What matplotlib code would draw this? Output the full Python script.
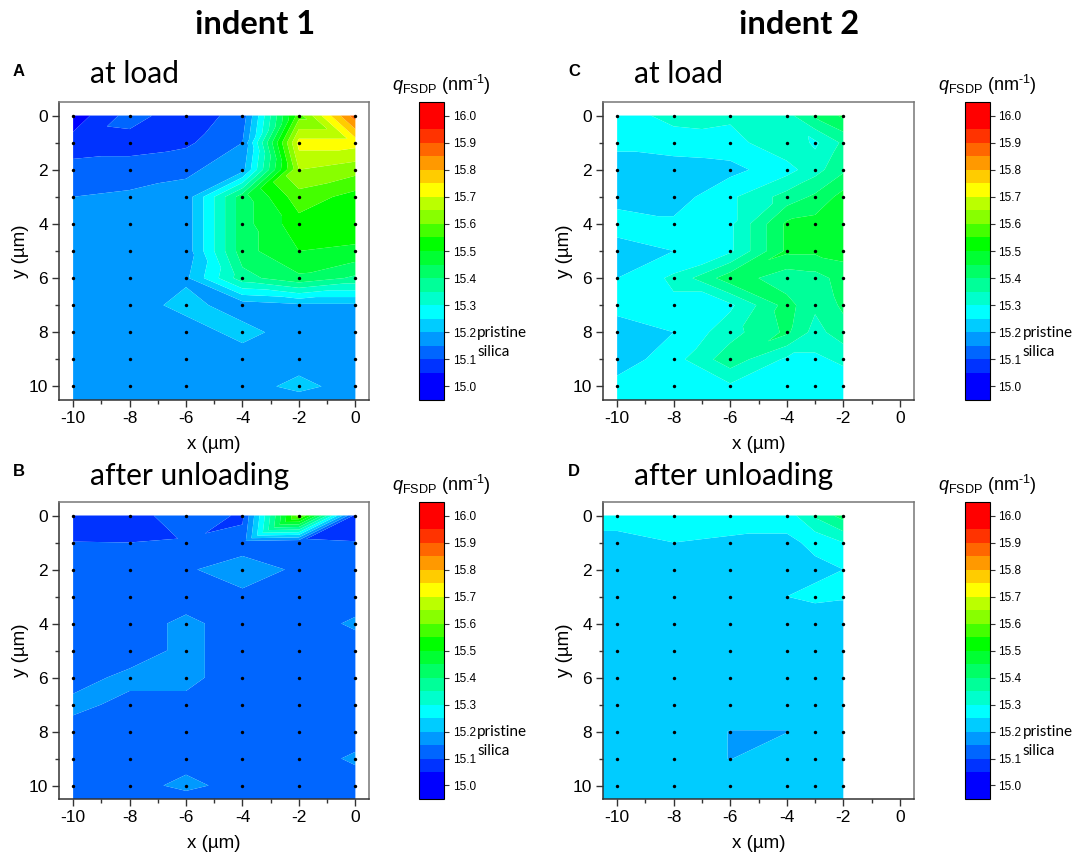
import numpy as np
import matplotlib
matplotlib.use('Agg')
import matplotlib.pyplot as plt
import matplotlib.tri as mtri
from matplotlib.colors import ListedColormap, BoundaryNorm
from matplotlib.cm import ScalarMappable
from matplotlib.ticker import MultipleLocator

plt.rcParams['font.family'] = ['Liberation Sans', 'DejaVu Sans']
plt.rcParams['mathtext.fontset'] = 'custom'
plt.rcParams['mathtext.rm'] = 'Liberation Sans'
plt.rcParams['mathtext.it'] = 'Liberation Sans:italic'
plt.rcParams['axes.unicode_minus'] = False

W, H = 1084, 860

# colour scale of the maps
levels = [14.95, 15.05, 15.10, 15.15, 15.20, 15.25, 15.30, 15.35, 15.40, 15.45, 15.50,
          15.55, 15.60, 15.65, 15.70, 15.75, 15.80, 15.85, 15.90, 15.95, 16.05]
colors = ['#0000ff', '#0033ff', '#0066ff', '#0099ff', '#00ccff', '#00ffff', '#00ffcc',
          '#00ff99', '#00ff66', '#00ff33', '#00ff00', '#44ff00', '#88ff00', '#bbff00',
          '#ffff00', '#ffcc00', '#ff9900', '#ff6600', '#ff3300', '#ff0000']
cbar_ticks = [15.0, 15.1, 15.2, 15.3, 15.4, 15.5, 15.6, 15.7, 15.8, 15.9, 16.0]

y_pos = [0, 1, 2, 3, 4, 5, 6, 7, 8, 9, 10]
x_indent1 = [-10, -8, -6, -4, -2, 0]
x_indent2 = [-10, -8, -6, -4, -3, -2]

q_a = [[15.02, 15.12, 15.07, 15.12, 15.58, 15.88],
       [15.07, 15.08, 15.09, 15.15, 15.72, 15.72],
       [15.12, 15.12, 15.14, 15.18, 15.65, 15.62],
       [15.15, 15.16, 15.17, 15.43, 15.58, 15.53],
       [15.17, 15.17, 15.17, 15.43, 15.53, 15.53],
       [15.17, 15.17, 15.17, 15.43, 15.50, 15.49],
       [15.17, 15.17, 15.19, 15.38, 15.44, 15.39],
       [15.17, 15.17, 15.22, 15.17, 15.19, 15.19],
       [15.17, 15.17, 15.17, 15.22, 15.17, 15.17],
       [15.17, 15.17, 15.17, 15.17, 15.17, 15.17],
       [15.17, 15.17, 15.17, 15.17, 15.22, 15.17]]
q_a_edge = [15.17, 15.17, 15.17, 15.17, 15.17, 15.17]

q_b = [[15.07, 15.07, 15.14, 15.09, 15.62, 15.08],
       [15.101, 15.10, 15.105, 15.12, 15.103, 15.101],
       [15.12, 15.12, 15.1425, 15.18, 15.14, 15.12],
       [15.12, 15.12, 15.11, 15.137, 15.12, 15.12],
       [15.12, 15.11, 15.17, 15.11, 15.12, 15.16],
       [15.12, 15.11, 15.17, 15.11, 15.12, 15.12],
       [15.12, 15.17, 15.17, 15.11, 15.12, 15.12],
       [15.17, 15.13, 15.13, 15.12, 15.12, 15.12],
       [15.12, 15.12, 15.12, 15.12, 15.12, 15.12],
       [15.12, 15.12, 15.12, 15.12, 15.12, 15.16],
       [15.12, 15.12, 15.17, 15.12, 15.12, 15.12]]
q_b_edge = [15.12, 15.12, 15.12, 15.12, 15.12, 15.12]

q_c = [[15.27, 15.32, 15.31, 15.33, 15.41, 15.46],
       [15.26, 15.27, 15.28, 15.34, 15.29, 15.36],
       [15.23, 15.23, 15.235, 15.28, 15.33, 15.39],
       [15.225, 15.225, 15.29, 15.37, 15.41, 15.47],
       [15.28, 15.26, 15.29, 15.46, 15.47, 15.49],
       [15.22, 15.25, 15.29, 15.46, 15.46, 15.47],
       [15.25, 15.31, 15.43, 15.37, 15.38, 15.42],
       [15.27, 15.29, 15.29, 15.42, 15.36, 15.41],
       [15.22, 15.25, 15.33, 15.41, 15.33, 15.38],
       [15.22, 15.28, 15.38, 15.29, 15.29, 15.31],
       [15.27, 15.28, 15.29, 15.28, 15.27, 15.27]]
q_c_edge = [15.27, 15.27, 15.27, 15.27, 15.27, 15.27]

q_d = [[15.27, 15.28, 15.28, 15.27, 15.36, 15.42],
       [15.235, 15.25, 15.24, 15.24, 15.26, 15.30],
       [15.22, 15.22, 15.22, 15.22, 15.24, 15.25],
       [15.22, 15.22, 15.22, 15.25, 15.26, 15.255],
       [15.22, 15.22, 15.22, 15.22, 15.22, 15.22],
       [15.22, 15.22, 15.22, 15.22, 15.22, 15.22],
       [15.22, 15.22, 15.22, 15.22, 15.22, 15.22],
       [15.22, 15.22, 15.22, 15.22, 15.22, 15.22],
       [15.22, 15.22, 15.199, 15.199, 15.22, 15.22],
       [15.22, 15.22, 15.199, 15.22, 15.22, 15.22],
       [15.22, 15.22, 15.22, 15.22, 15.22, 15.22]]
q_d_edge = [15.22, 15.22, 15.22, 15.22, 15.22, 15.22]

cmap = ListedColormap(colors)
norm = BoundaryNorm(levels, len(colors))


def box(left, top, right, bottom):
    return [left / W, 1 - bottom / H, (right - left) / W, (bottom - top) / H]


def put(x, y, s, **kw):
    return fig.text(x / W, 1 - y / H, s, **kw)


def split_cells(z, flips=()):
    # each grid cell is cut along the diagonal whose two corners are closest in value
    ny, nx = z.shape
    tris = []
    for j in range(ny - 1):
        for i in range(nx - 1):
            a, b = j * nx + i, j * nx + i + 1
            c, d = (j + 1) * nx + i, (j + 1) * nx + i + 1
            first = abs(z[j, i] - z[j + 1, i + 1]) <= abs(z[j, i + 1] - z[j + 1, i])
            if (j, i) in flips:
                first = not first
            if first:
                tris += [[a, b, d], [a, d, c]]
            else:
                tris += [[a, b, c], [b, d, c]]
    return tris


def draw_map(rect, cbar_rect, xs, q, q_edge, letter, letter_x, sub, sub_dy, fill_left=False, flips=()):
    ax = fig.add_axes(box(*rect))
    # the fill runs on to the lower edge of the frame
    xf = list(xs)
    yf = y_pos + [10.5]
    zf = np.vstack([np.array(q), q_edge])
    if fill_left:
        xf = [-10.5] + xf
        zf = np.column_stack([zf[:, 0], zf])
    mx, my = np.meshgrid(xf, yf)
    tri = mtri.Triangulation(mx.ravel(), my.ravel(), split_cells(zf, flips))
    ax.tricontourf(tri, zf.ravel(), levels=levels, colors=colors, antialiased=True)
    gx, gy = np.meshgrid(xs, y_pos)
    ax.scatter(gx.ravel(), gy.ravel(), s=6, c='black', zorder=5, clip_on=False, linewidths=0)
    ax.set_xlim(-10.5, 0.5)
    ax.set_ylim(10.5, -0.5)
    ax.xaxis.set_major_locator(MultipleLocator(2))
    ax.xaxis.set_minor_locator(MultipleLocator(1))
    ax.yaxis.set_major_locator(MultipleLocator(2))
    ax.yaxis.set_minor_locator(MultipleLocator(1))
    ax.tick_params(which='major', length=5, width=1, labelsize=12.5, color='#333333', pad=3)
    ax.tick_params(which='minor', length=3, width=1, color='#333333')
    ax.set_xlabel('x (µm)', fontsize=13.5, labelpad=7)
    ax.set_ylabel('y (µm)', fontsize=13.5, labelpad=0)
    for s in ['left', 'bottom']:
        ax.spines[s].set_color('#333333')
        ax.spines[s].set_linewidth(1.1)
    for s in ['top', 'right']:
        ax.spines[s].set_color('#777777')
        ax.spines[s].set_linewidth(1.1)

    cax = fig.add_axes(box(*cbar_rect))
    cb = fig.colorbar(ScalarMappable(norm=norm, cmap=cmap), cax=cax, spacing='proportional')
    cb.set_ticks(cbar_ticks)
    cb.set_ticklabels(['%.1f' % t for t in cbar_ticks])
    cb.ax.minorticks_off()
    cb.ax.tick_params(length=3.5, width=0.8, labelsize=8.5, pad=3, color='#333333')
    cb.outline.set_linewidth(0.8)

    left, top = rect[0], rect[1]
    cl, cr = cbar_rect[0], cbar_rect[2]
    put(letter_x, top - 30, letter, fontsize=12, fontweight='bold', va='center', ha='left')
    put(left + 31, top - sub_dy, sub, fontsize=21.5, family='Lato', va='center', ha='left')
    put((cl + cr) / 2 + 10, top - 17, r'$\mathit{q}_{\mathrm{FSDP}}$ (nm$^{\text{-1}}$)', fontsize=13,
        va='center', ha='center')
    put(cr + 33, cbar_rect[3] - 67, 'pristine', fontsize=11, family='Lato', va='center', ha='left')
    put(cr + 33, cbar_rect[3] - 48, 'silica', fontsize=11, family='Lato', va='center', ha='left')
    return ax


fig = plt.figure(figsize=(W / 100, H / 100), dpi=100)

draw_map((59, 102, 369.5, 400), (419.3, 102, 444.3, 400), x_indent1, q_a, q_a_edge, 'A', 13, 'at load', 28)
draw_map((59, 502, 369.5, 799), (419.3, 502, 444.3, 799), x_indent1, q_b, q_b_edge, 'B', 13, 'after unloading', 26,
         flips=[(0, 3)])
draw_map((603, 102, 914, 400), (965, 102, 989.5, 400), x_indent2, q_c, q_c_edge, 'C', 568, 'at load', 28)
draw_map((603, 502, 914, 799), (965, 502, 989.5, 799), x_indent2, q_d, q_d_edge, 'D', 568, 'after unloading', 26,
         fill_left=True)

put(255, 24, 'indent 1', fontsize=23.5, fontweight='bold', family='Lato', va='center', ha='center')
put(799, 24, 'indent 2', fontsize=23.5, fontweight='bold', family='Lato', va='center', ha='center')

fig.savefig('out.png', dpi=100)
